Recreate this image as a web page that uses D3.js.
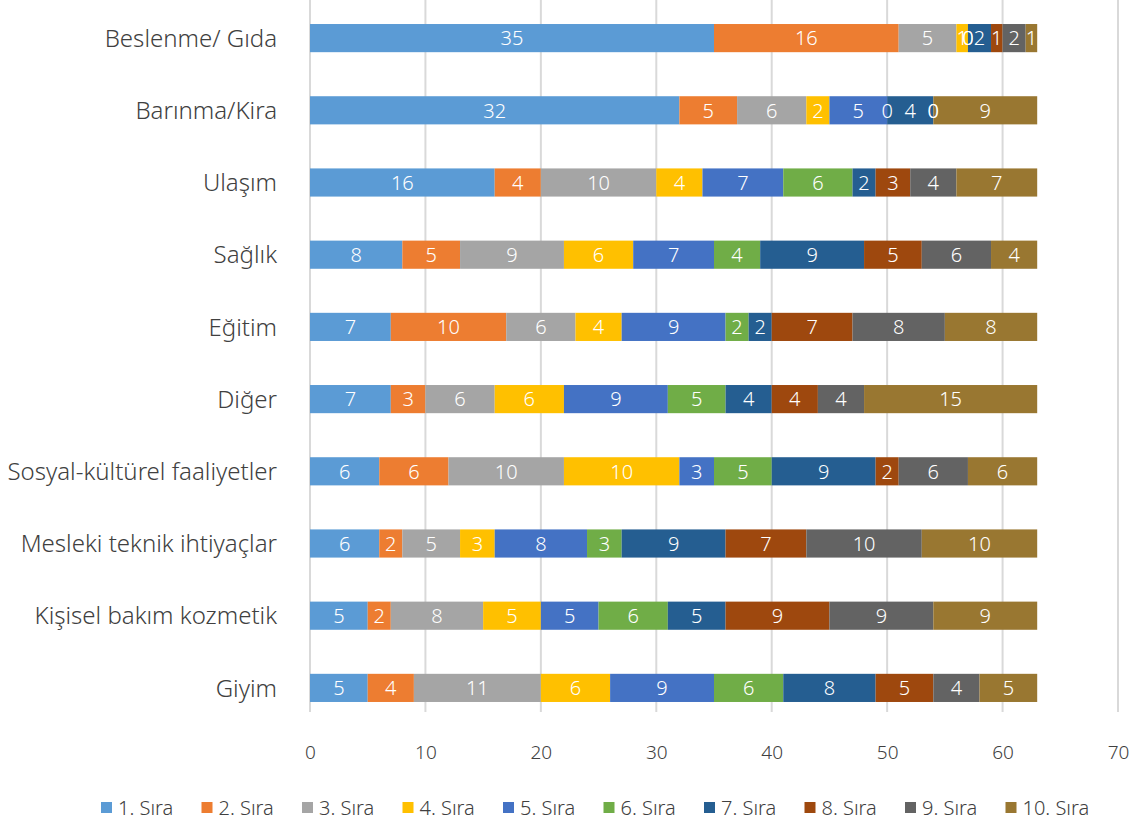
<!DOCTYPE html>
<html>
<head>
<meta charset="utf-8">
<script src="https://cdn.jsdelivr.net/npm/d3@7"></script>
<style>
body{margin:0;background:#fff;font-family:"Noto Sans",sans-serif;font-weight:300;}
</style>
</head>
<body>
<div id="chart"></div>
<script>
const categories = ['Beslenme/ Gıda','Barınma/Kira','Ulaşım','Sağlık','Eğitim','Diğer','Sosyal-kültürel faaliyetler','Mesleki teknik ihtiyaçlar','Kişisel bakım kozmetik','Giyim'];
const seriesNames = ['1. Sıra','2. Sıra','3. Sıra','4. Sıra','5. Sıra','6. Sıra','7. Sıra','8. Sıra','9. Sıra','10. Sıra'];
const colors = ['#5B9BD5','#ED7D31','#A5A5A5','#FFC000','#4472C4','#70AD47','#255E91','#9E480E','#636363','#997731'];
// one array per category, values for 1..10. Sıra
const beslenme = [35,16,5,1,0,0,2,1,2,1];
const barinma = [32,5,6,2,5,0,4,0,0,9];
const ulasim = [16,4,10,4,7,6,2,3,4,7];
const saglik = [8,5,9,6,7,4,9,5,6,4];
const egitim = [7,10,6,4,9,2,2,7,8,8];
const diger = [7,3,6,6,9,5,4,4,4,15];
const sosyal = [6,6,10,10,3,5,9,2,6,6];
const mesleki = [6,2,5,3,8,3,9,7,10,10];
const kisisel = [5,2,8,5,5,6,5,9,9,9];
const giyim = [5,4,11,6,9,6,8,5,4,5];
const values = [beslenme,barinma,ulasim,saglik,egitim,diger,sosyal,mesleki,kisisel,giyim];
const xTicks = [0,10,20,30,40,50,60,70];

const W = 1143, H = 825;
const svg = d3.select('#chart').append('svg').attr('width',W).attr('height',H);

const x = d3.scaleLinear().domain([0,70]).range([310, 1118]);
const y = d3.scaleBand().domain(categories).range([2, 724]).paddingInner(0.61).paddingOuter(0.305);

// gridlines
svg.append('g').selectAll('line').data(xTicks).enter().append('line')
.attr('x1',d=>x(d)).attr('x2',d=>x(d))
.attr('y1',0).attr('y2',712)
.attr('stroke','#d9d9d9').attr('stroke-width',2);

const rows = categories.map((c,i)=>{
let acc = 0;
return values[i].map((v,j)=>{ const s = {cat:c, s:j, v:v, x0:acc, x1:acc+v}; acc += v; return s; });
});

const g = svg.append('g');
rows.forEach(r=>{
g.selectAll(null).data(r).enter().append('rect')
.attr('x',d=>x(d.x0)).attr('width',d=>x(d.x1)-x(d.x0))
.attr('y',d=>y(d.cat)).attr('height',y.bandwidth())
.attr('fill',d=>colors[d.s]);
g.selectAll(null).data(r).enter().append('text')
.attr('x',d=>(x(d.x0)+x(d.x1))/2)
.attr('y',d=>y(d.cat)+y.bandwidth()/2)
.attr('dy','0.36em')
.attr('text-anchor','middle')
.attr('fill','#fff').attr('font-size',20)
.text(d=>d.v);
});

// category labels
svg.append('g').selectAll('text').data(categories).enter().append('text')
.attr('x',277).attr('y',d=>y(d)+y.bandwidth()/2).attr('dy','0.36em')
.attr('text-anchor','end').attr('fill','#404040').attr('font-size',24)
.text(d=>d);

// x axis labels
const xAxis = d3.axisBottom(x).tickValues(xTicks).tickSize(0).tickPadding(0);
const ax = svg.append('g').attr('transform','translate(0,745)').call(xAxis);
ax.select('.domain').remove();
ax.selectAll('text').attr('font-size',19).attr('fill','#404040').attr('font-family','"Noto Sans",sans-serif');

// legend
const lg = svg.append('g').attr('transform','translate(0,808)');
const item = lg.selectAll('g').data(seriesNames).enter().append('g')
.attr('transform',(d,i)=>`translate(${101 + i*100.5},0)`);
item.append('rect').attr('x',0).attr('y',-6).attr('width',11).attr('height',11).attr('fill',(d,i)=>colors[i]);
item.append('text').attr('x',17).attr('y',0).attr('dy','0.36em')
.attr('font-size',20).attr('fill','#404040').text(d=>d);
</script>
</body>
</html>
